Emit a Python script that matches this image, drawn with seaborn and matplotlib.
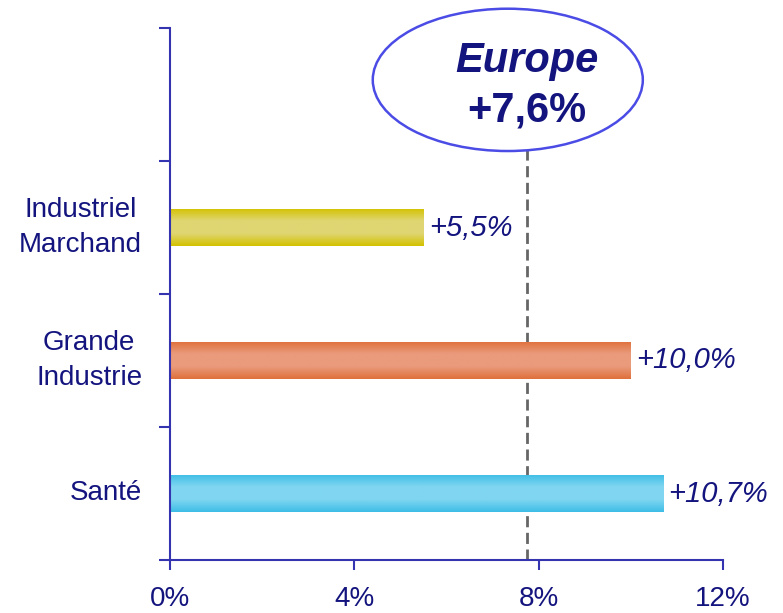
import numpy as np
import pandas as pd
import matplotlib
matplotlib.use("Agg")
import matplotlib.pyplot as plt
from matplotlib.patches import Ellipse
from matplotlib.colors import LinearSegmentedColormap
import seaborn as sns

# data
categories = ["Industriel\nMarchand", "Grande\nIndustrie", "Santé"]
growth = [5.5, 10.0, 10.7]
value_labels = ["+5,5%", "+10,0%", "+10,7%"]
europe_label = "+7,6%"
europe_line = 7.75  # where the dashed line actually sits in the picture
x_ticks = [0, 4, 8, 12]
x_tick_labels = ["0%", "4%", "8%", "12%"]

edge_colors = ["#D3C100", "#DE703C", "#3EBDE6"]
mid_colors = ["#DFD672", "#EA9B7C", "#80D6F1"]

navy = "#14147F"
axis_blue = "#3434B0"

sns.set_theme(style="white")
plt.rcParams['font.family'] = ['Liberation Sans', 'DejaVu Sans']

df = pd.DataFrame({"cat": categories, "growth": growth})

fig = plt.figure(figsize=(7.83, 6.13), dpi=100)
ax = fig.add_axes([170 / 783, 53 / 613, 553 / 783, 532 / 613])

sns.barplot(data=df, x="growth", y="cat", hue="cat", palette=edge_colors,
            order=categories, width=0.28, legend=False, ax=ax, saturation=1)

# gradient fill on each bar: darker at the edges, lighter in the middle
for patch, c_edge, c_mid in zip(ax.patches, edge_colors, mid_colors):
    x0, y0 = patch.get_x(), patch.get_y()
    w, h = patch.get_width(), patch.get_height()
    cmap = LinearSegmentedColormap.from_list("g", [c_edge, c_mid, c_mid, c_edge])
    grad = np.linspace(0, 1, 100).reshape(-1, 1)
    im = ax.imshow(grad, cmap=cmap, aspect="auto", extent=[x0, x0 + w, y0 + h, y0],
                   zorder=patch.get_zorder() + 0.1, interpolation="bilinear")
    im.set_clip_path(patch)
    patch.set_edgecolor("none")

for i, (v, lab) in enumerate(zip(growth, value_labels)):
    ax.annotate(lab, xy=(v, i), xytext=(4, 0), textcoords="offset points",
                ha="left", va="center", fontsize=21, style="italic", color=navy)

ax.set_xlim(0, 12)
ax.set_ylim(2.5, -1.5)

# europe average
ax.plot([europe_line, europe_line], [-0.59, 2.5], ls=(0, (4, 2)), color="#666666",
        lw=2, zorder=1, clip_on=False)
ell = Ellipse((7.33, -1.11), 5.86, 1.07, facecolor="white", edgecolor="#4B4BE6",
              lw=1.8, clip_on=False, zorder=5)
ax.add_patch(ell)
ax.text(europe_line, -1.25, "Europe", ha="center", va="center", fontsize=30,
        fontweight="bold", style="italic", color=navy, zorder=6, clip_on=False)
ax.text(europe_line, -0.88, europe_label, ha="center", va="center", fontsize=30,
        fontweight="bold", color=navy, zorder=6, clip_on=False)

ax.set_xticks(x_ticks)
ax.set_xticklabels(x_tick_labels)
ax.set_yticks(range(len(categories)))
ax.set_yticklabels(categories, multialignment="center", linespacing=1.45)
ax.set_yticks([-1.5, -0.5, 0.5, 1.5, 2.5], minor=True)
ax.set_xlabel("")
ax.set_ylabel("")

ax.tick_params(axis="x", direction="out", length=7, width=1.5, color=axis_blue,
               pad=12, labelsize=20, labelcolor=navy, bottom=True)
ax.tick_params(axis="y", which="major", length=0, pad=20, labelsize=20, labelcolor=navy)
ax.tick_params(axis="y", which="minor", direction="out", length=8, width=1.5,
               color=axis_blue, left=True)
for t in ax.get_yticklabels():
    t.set_y(t.get_position()[1])
    t.set_va("center")

sns.despine(ax=ax)
for s in ["left", "bottom"]:
    ax.spines[s].set_color(axis_blue)
    ax.spines[s].set_linewidth(1.5)
    ax.spines[s].set_zorder(7)

fig.savefig("out.png", dpi=100)
